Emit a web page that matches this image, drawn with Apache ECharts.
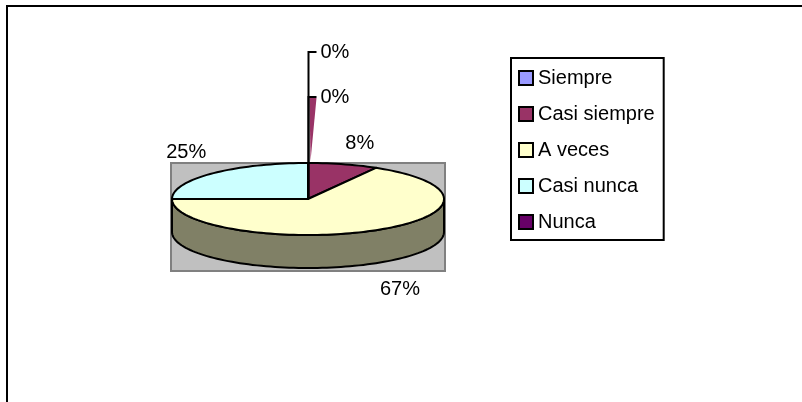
<!DOCTYPE html>
<html>
<head>
<meta charset="utf-8">
<script src="https://cdn.jsdelivr.net/npm/echarts@6/dist/echarts.min.js"></script>
<style>
  html, body { margin: 0; padding: 0; background: #fff; }
  #chart { width: 802px; height: 402px; }
</style>
</head>
<body>
<div id="chart"></div>
<script>
// Survey answers (counts per option)
const categories = ['Siempre', 'Casi siempre', 'A veces', 'Casi nunca', 'Nunca'];
const counts = [0, 1, 8, 3, 0];
const sliceColors = ['#9999FF', '#993366', '#FFFFCC', '#CCFFFF', '#660066'];

// Pie layout (3-D elliptical pie)
const PIE = { cx: 308, cy: 199, rx: 136, ry: 36, depth: 33 };
const SIDE_COLOR = '#808066';
const FONT = 'Liberation Sans';

const total = counts.reduce((a, b) => a + b, 0);
const starts = [];
{
  let acc = 0;
  counts.forEach(v => { starts.push(acc / total * 360); acc += v; });
}
const rad = d => d * Math.PI / 180;
const topPt = a => [PIE.cx + PIE.rx * Math.sin(rad(a)), PIE.cy - PIE.ry * Math.cos(rad(a))];

function arcPoints(a0, a1, dy) {
  const pts = [];
  const n = Math.max(2, Math.ceil((a1 - a0) / 2));
  for (let k = 0; k <= n; k++) {
    const p = topPt(a0 + (a1 - a0) * k / n);
    pts.push([p[0], p[1] + dy]);
  }
  return pts;
}

// zero-valued slices get stacked labels above the pie, last one lowest
const zeroIdx = counts.map((v, i) => v === 0 ? i : -1).filter(i => i >= 0);

function renderSlice(params, api) {
  const i = api.value(0);
  const v = counts[i];
  const a0 = starts[i];
  const a1 = a0 + v / total * 360;
  const children = [];
  const pct = Math.round(v / total * 100) + '%';

  if (v > 0) {
    // visible side wall (front half, 90..270 deg)
    const s = Math.max(a0, 90), e = Math.min(a1, 270);
    if (e > s) {
      const upper = arcPoints(s, e, 0);
      const lower = arcPoints(s, e, PIE.depth).reverse();
      children.push({
        type: 'polygon', z2: 1,
        shape: { points: upper.concat(lower) },
        style: { fill: SIDE_COLOR, stroke: '#000', lineWidth: 2, lineJoin: 'round' }
      });
    }
    // top face
    children.push({
      type: 'polygon', z2: 2,
      shape: { points: [[PIE.cx, PIE.cy]].concat(arcPoints(a0, a1, 0)) },
      style: { fill: sliceColors[i], stroke: '#000', lineWidth: 2, lineJoin: 'round' }
    });
    // percentage label just outside the rim at the slice's middle angle
    const mid = (a0 + a1) / 2;
    const sn = Math.sin(rad(mid)), c = Math.cos(rad(mid));
    const rim = topPt(mid);
    const below = c < 0;
    const lx = rim[0] + 8 * sn;
    const ly = below ? rim[1] + PIE.depth + 16 : rim[1] - 11;
    children.push({
      type: 'text', z2: 5,
      x: lx, y: ly,
      style: {
        text: pct, fill: '#000', font: '20px "' + FONT + '"',
        align: Math.abs(sn) < 0.3 ? 'left' : (sn > 0 ? 'left' : 'right'),
        verticalAlign: below ? 'top' : 'bottom'
      }
    });
  } else {
    const rank = zeroIdx.length - 1 - zeroIdx.indexOf(i);
    const topY = PIE.cy - PIE.ry;
    const ly = topY - 66 - 45 * rank;
    const lx = PIE.cx + 0.5;
    if (rank === 0) {
      // thin wedge along the lowest leader, in the neighbouring slice colour
      const nb = counts.findIndex(x => x > 0);
      children.push({
        type: 'polygon', z2: 3,
        shape: { points: [[lx + 1, ly + 1], [lx + 8, ly + 1], [lx + 2, topY - 2]] },
        style: { fill: sliceColors[nb] }
      });
    }
    children.push({
      type: 'polyline', z2: 4,
      shape: { points: [[lx, PIE.cy], [lx, ly], [lx + 8, ly]] },
      style: { stroke: '#000', lineWidth: 2, fill: null }
    });
    children.push({
      type: 'text', z2: 5,
      x: lx + 12, y: ly,
      style: { text: pct, fill: '#000', font: '20px "' + FONT + '"', align: 'left', verticalAlign: 'middle' }
    });
  }
  return { type: 'group', children };
}

const chart = echarts.init(document.getElementById('chart'), null, { renderer: 'canvas' });
chart.setOption({
  animation: false,
  backgroundColor: '#fff',
  graphic: [
    // chart frame
    { type: 'rect', z: -10, shape: { x: 7, y: 6, width: 900, height: 500 },
      style: { fill: '#fff', stroke: '#000', lineWidth: 2 } },
    // plot area
    { type: 'rect', z: -5,
      shape: { x: PIE.cx - PIE.rx - 1, y: PIE.cy - PIE.ry, width: PIE.rx * 2 + 2, height: PIE.ry * 2 + PIE.depth + 3 },
      style: { fill: '#C0C0C0', stroke: '#808080', lineWidth: 2 } }
  ],
  legend: {
    orient: 'vertical',
    left: 511, top: 58,
    padding: [10, 9, 8, 7],
    itemGap: 16, itemWidth: 14, itemHeight: 14,
    icon: 'rect',
    selectedMode: false,
    borderColor: '#000', borderWidth: 2, borderRadius: 0,
    itemStyle: { borderColor: '#000', borderWidth: 2 },
    textStyle: { fontFamily: FONT, fontSize: 20, color: '#000', lineHeight: 20 },
    data: categories
  },
  series: categories.map((name, i) => ({
    type: 'custom',
    name,
    coordinateSystem: 'none',
    itemStyle: { color: sliceColors[i] },
    renderItem: renderSlice,
    data: [[i]]
  }))
});
</script>
</body>
</html>
